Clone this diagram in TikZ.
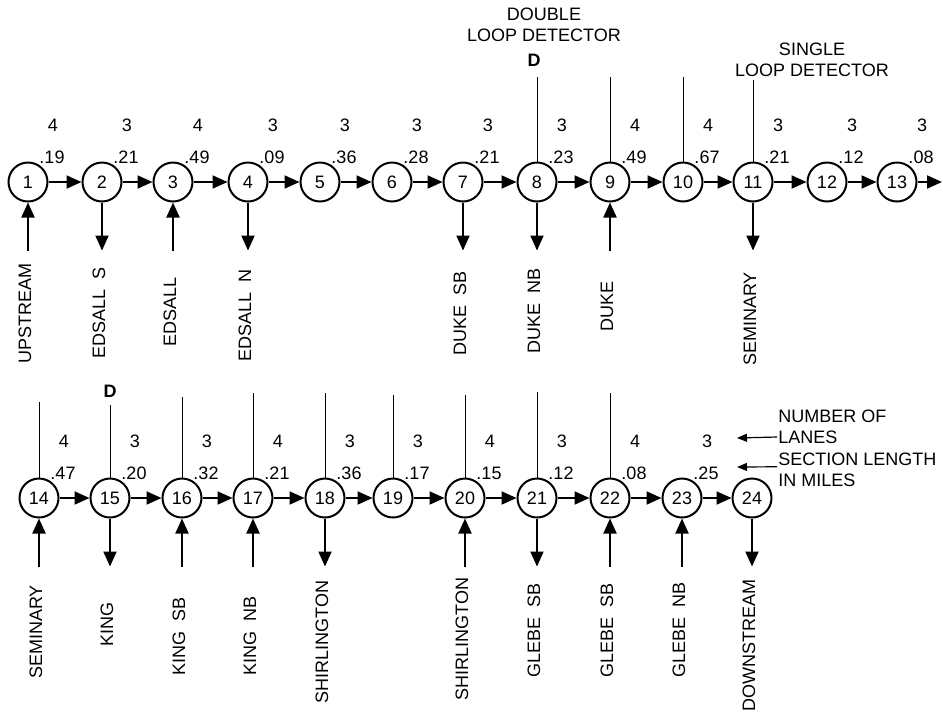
\documentclass[tikz,border=0pt]{standalone}
\usepackage{fontspec}
\setmainfont{Liberation Sans}
\usetikzlibrary{arrows.meta}

\tikzset{
  sect/.style={circle,draw,line width=1pt,minimum size=19.5pt,inner sep=0pt,font=\fontsize{9}{10}\selectfont},
  flow/.style={line width=1pt,-{Triangle[length=7.5pt,width=6.5pt]}},
  det/.style={line width=0.5pt},
  lbl/.style={inner sep=0.5pt,font=\fontsize{9}{10.5}\selectfont},
  ramp/.style={lbl,rotate=90},
  legarrow/.style={line width=0.6pt,-{Triangle[length=5pt,width=4pt]}},
}

\begin{document}
\begin{tikzpicture}[x=0.5pt,y=-0.5pt]
  \useasboundingbox (0,0) rectangle (943,714);

  % sections, upper row and lower row
  \foreach \n/\px in {1/28,2/102,3/173,4/248,5/320,6/392,7/463,8/537,9/610,10/683,11/753,12/827,13/897}
    \node[sect] (n\n) at (\px,182) {\n};
  \foreach \n/\px in {14/39,15/110,16/182,17/253,18/325,19/393,20/465,21/537,22/610,23/682,24/752}
    \node[sect] (n\n) at (\px,498) {\n};

  \foreach \a/\b in {1/2,2/3,3/4,4/5,5/6,6/7,7/8,8/9,9/10,10/11,11/12,12/13,
                     14/15,15/16,16/17,17/18,18/19,19/20,20/21,21/22,22/23,23/24}
    \draw[flow] (n\a) -- (n\b);
  \coordinate (out13) at (942,182);
  \draw[flow] (n13) -- (out13);

  % lanes and section lengths
  \foreach \n/\l/\s in {1/4/.19,2/3/.21,3/4/.49,4/3/.09,5/3/.36,6/3/.28,7/3/.21,8/3/.23,9/4/.49,
                        10/4/.67,11/3/.21,12/3/.12,13/3/.08,14/4/.47,15/3/.20,16/3/.32,17/4/.21,
                        18/3/.36,19/3/.17,20/4/.15,21/3/.12,22/4/.08,23/3/.25}{
    \path (n\n) ++(25,-57) node[lbl] (lane\n) {\l};
    \path (n\n) ++(24,-25) node[lbl] (len\n) {\s};
  }

  % loop detectors
  \foreach \n/\dy in {8/77,9/77,10/77,11/80,14/402,15/405,16/397,17/393,18/393,19/395,20/395,21/392,22/393}{
    \path (n\n.north |- 0,\dy) coordinate (d\n);
    \draw[det] (n\n) -- (d\n);
  }
  \node[lbl,font=\fontsize{9}{10.5}\selectfont\bfseries] (dbl8) at (534,60) {D};
  \node[lbl,font=\fontsize{9}{10.5}\selectfont\bfseries] (dbl15) at (110,391) {D};
  \node[lbl,align=center] (dbltxt) at (544,25) {DOUBLE\\LOOP DETECTOR};
  \node[lbl,align=center] (sgltxt) at (812,60) {SINGLE\\LOOP DETECTOR};

  % on ramps
  \foreach \n/\t/\ty in {1/UPSTREAM/313,3/EDSALL/312,9/DUKE/306,14/SEMINARY/632,16/KING\ \ SB/636,
                         17/KING\ \ NB/636,20/SHIRLINGTON/639,22/GLEBE\ \ SB/630,23/GLEBE\ \ NB/630}{
    \path (n\n.south) ++(0,48) coordinate (r\n);
    \draw[flow] (r\n) -- (n\n);
    \path (r\n |- 0,\ty) ++(-3,0) node[ramp] (t\n) {\t};
  }
  % off ramps
  \foreach \n/\t/\ty in {2/EDSALL\ \ S/313,4/EDSALL\ \ N/315,7/DUKE\ \ SB/313,8/DUKE\ \ NB/311,11/SEMINARY/319,
                         15/KING/624,18/SHIRLINGTON/642,21/GLEBE\ \ SB/630,24/DOWNSTREAM/645}{
    \path (n\n.south) ++(0,48) coordinate (r\n);
    \draw[flow] (n\n) -- (r\n);
    \path (r\n |- 0,\ty) ++(-3,0) node[ramp] (t\n) {\t};
  }

  % legend
  \node[lbl,anchor=west] (numof) at (777,416) {NUMBER OF};
  \node[lbl,anchor=west] (lanes) at (777,437) {LANES};
  \node[lbl,anchor=west] (seclen) at (777,459) {SECTION LENGTH};
  \node[lbl,anchor=west] (miles) at (777,480) {IN MILES};
  \coordinate (lanetip) at (737,438);
  \coordinate (lentip) at (737,467);
  \draw[legarrow] (lanes.west) -- (lanetip);
  \draw[legarrow] (seclen.south west) -- (lentip);
\end{tikzpicture}
\end{document}
